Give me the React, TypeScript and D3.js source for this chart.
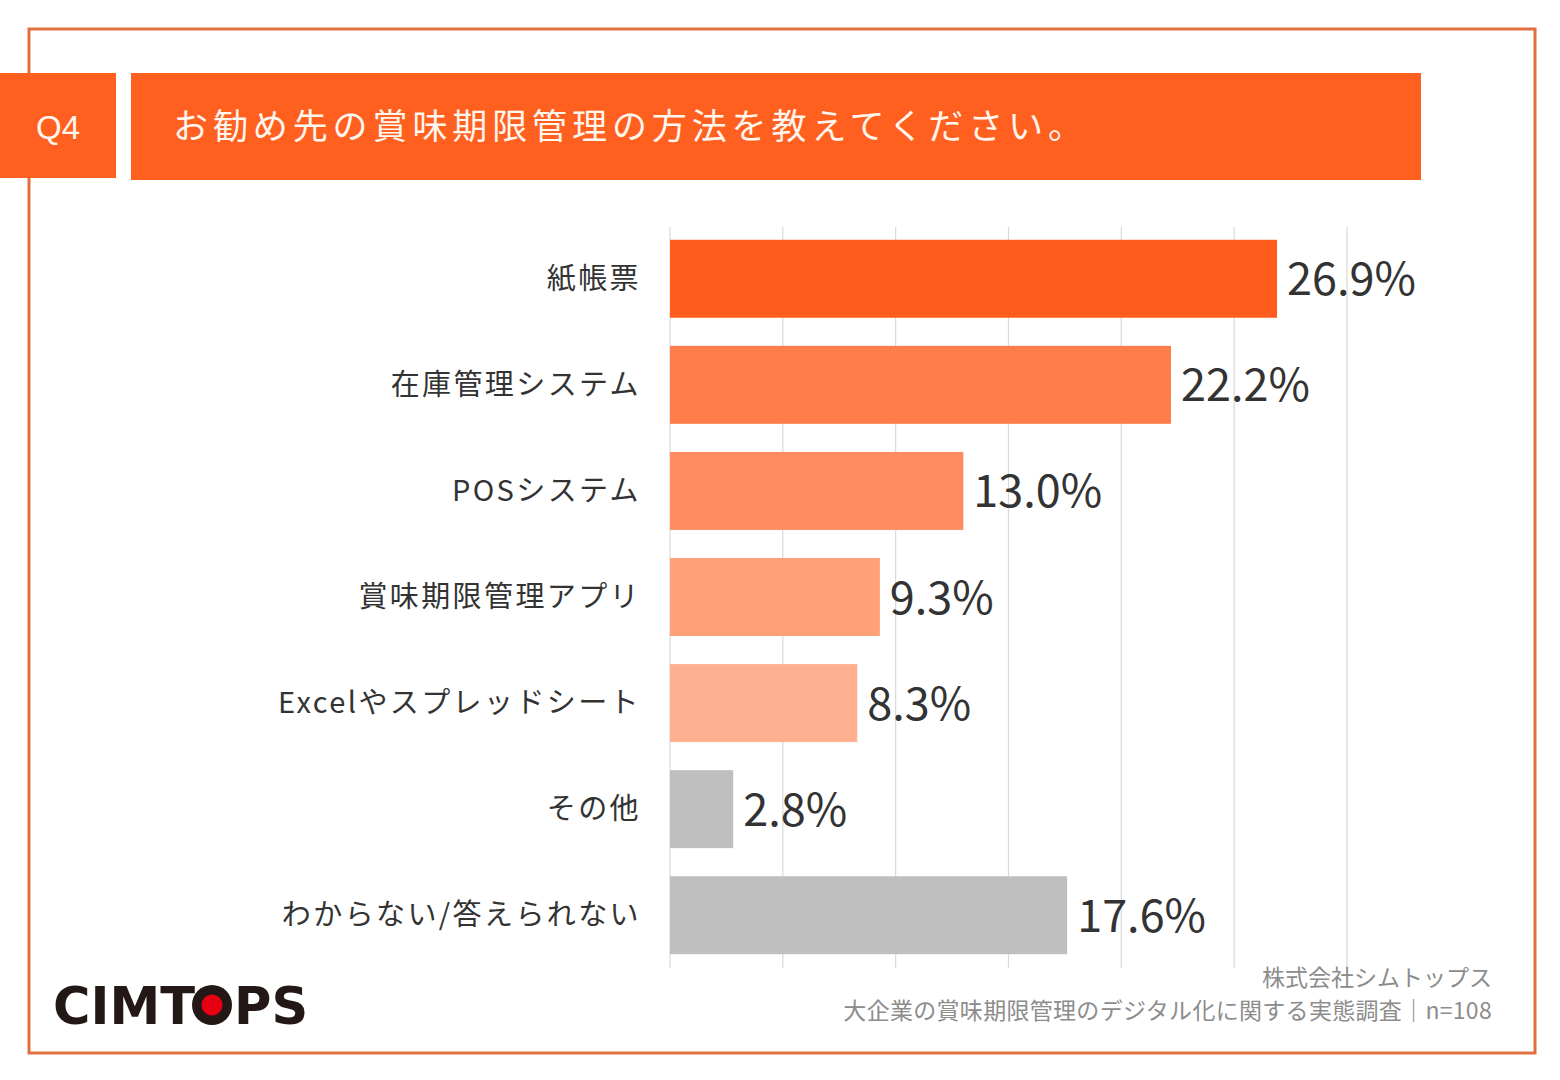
import React from "react";
import * as d3 from "d3";

const categories = ["紙帳票", "在庫管理システム", "POSシステム", "賞味期限管理アプリ", "Excelやスプレッドシート", "その他", "わからない/答えられない"];
const values = [26.9, 22.2, 13.0, 9.3, 8.3, 2.8, 17.6];
const barColors = ["#FF5C1E", "#FF7D4A", "#FF8D5F", "#FFA078", "#FFB090", "#BFBFBF", "#BFBFBF"];
const ticks = [0, 5, 10, 15, 20, 25, 30];
const title = "お勧め先の賞味期限管理の方法を教えてください。";
const qLabel = "Q4";
const source1 = "株式会社シムトップス";
const source2 = "大企業の賞味期限管理のデジタル化に関する実態調査｜n=108";

const W = 1560, H = 1080;
const JP = "'Noto Sans CJK JP', 'Noto Sans', sans-serif";

export default function App() {
  const x = d3.scaleLinear().domain([0, 30]).range([670, 1347]);
  const y = d3.scaleBand().domain(categories).range([226, 968]).paddingInner(0.265).paddingOuter(0.13);
  return (
    <svg width={W} height={H} style={{ position: "absolute", left: 0, top: 0, background: "#fff" }} fontFamily={JP}>
      <rect x={0} y={0} width={W} height={H} fill="#fff" />
      <rect x={29} y={29} width={1506} height={1024} fill="none" stroke="#E2703F" strokeWidth={3} />
      <rect x={0} y={73} width={116} height={105} fill="#FF5F1F" />
      <text x={58} y={139} textAnchor="middle" fontFamily="'Liberation Sans', Arial, sans-serif" fontSize={33} fill="#FFF6EE">{qLabel}</text>
      <rect x={131} y={73} width={1290} height={107} fill="#FF5F1F" />
      <text x={173} y={139} fontSize={35} fill="#FFF6EE" letterSpacing={4.9}>{title}</text>
      {ticks.map(t => (
        <line key={t} x1={x(t)} x2={x(t)} y1={227} y2={968} stroke="#D9D9D9" strokeWidth={1.2} />
      ))}
      {categories.map((c, i) => (
        <g key={c}>
          <rect x={x(0)} y={y(c)} width={x(values[i]) - x(0)} height={y.bandwidth()} fill={barColors[i]} />
          <text x={641} y={(y(c) as number) + y.bandwidth() / 2 - 3} textAnchor="end" dominantBaseline="central" fontSize={29} fill="#333" letterSpacing={2.4}>{c}</text>
          <text x={x(values[i]) + 10} y={(y(c) as number) + y.bandwidth() / 2 - 3} dominantBaseline="central" fontSize={45} fill="#333">{values[i].toFixed(1) + "%"}</text>
        </g>
      ))}
      <text x={1492} y={986} textAnchor="end" fontSize={23} fill="#8C8C8C">{source1}</text>
      <text x={1492} y={1019} textAnchor="end" fontSize={23} fill="#8C8C8C" letterSpacing={0.3}>{source2}</text>
      <g fontFamily="'DejaVu Sans', 'Liberation Sans', sans-serif" fontWeight="bold" fontSize={51} fill="#231815">
        <text x={53} y={1024} letterSpacing={0}>CIMT</text>
        <circle cx={212} cy={1005} r={20} fill="#231815" />
        <circle cx={212} cy={1005} r={10.5} fill="#E60012" />
        <text x={234} y={1024} letterSpacing={0}>PS</text>
      </g>
    </svg>
  );
}
